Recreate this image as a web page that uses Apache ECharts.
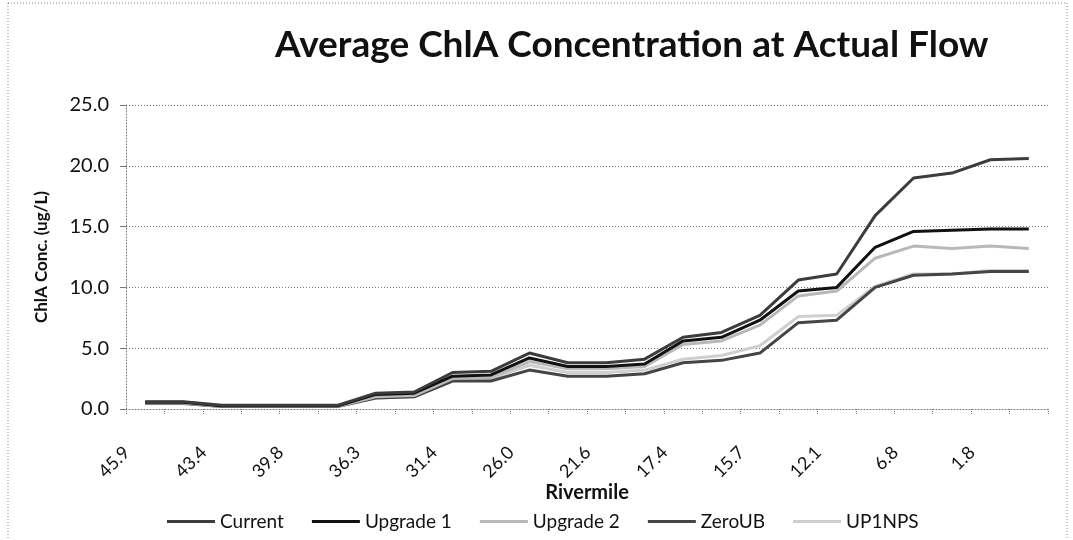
<!DOCTYPE html>
<html>
<head>
<meta charset="utf-8">
<script src="https://cdn.jsdelivr.net/npm/echarts@6/dist/echarts.min.js"></script>
<style>
  html, body { margin: 0; padding: 0; background: #fff; }
  #chart { width: 1073px; height: 540px; }
</style>
</head>
<body>
<div id="chart"></div>
<script>
// rivermile categories (only every other one is labelled in the original)
const rivermiles = [
  '45.9', '44.6', '43.4', '41.6', '39.8', '38.0', '36.3', '33.8',
  '31.4', '28.7', '26.0', '23.8', '21.6', '19.5', '17.4', '16.5',
  '15.7', '13.9', '12.1', '9.5', '6.8', '4.3', '1.8', '0.0'
];

// ChlA concentration (ug/L)
const current = [0.6, 0.6, 0.3, 0.3, 0.3, 0.3, 1.3, 1.4, 3.0, 3.1, 4.6, 3.8, 3.8, 4.1, 5.9, 6.3, 7.7, 10.6, 11.1, 15.9, 19.0, 19.4, 20.5, 20.6];
const upgrade1 = [0.55, 0.55, 0.25, 0.25, 0.25, 0.25, 1.2, 1.3, 2.7, 2.8, 4.2, 3.5, 3.5, 3.7, 5.6, 5.9, 7.3, 9.7, 10.0, 13.3, 14.6, 14.7, 14.8, 14.8];
const upgrade2 = [0.5, 0.5, 0.2, 0.2, 0.2, 0.2, 1.0, 1.1, 2.5, 2.6, 3.9, 3.3, 3.3, 3.5, 5.3, 5.6, 6.9, 9.3, 9.7, 12.4, 13.4, 13.2, 13.4, 13.2];
const zeroUB = [0.45, 0.45, 0.2, 0.2, 0.2, 0.2, 0.9, 1.0, 2.3, 2.3, 3.2, 2.7, 2.7, 2.9, 3.8, 4.0, 4.6, 7.1, 7.3, 10.0, 11.0, 11.1, 11.3, 11.3];
const up1nps = [0.5, 0.5, 0.2, 0.2, 0.2, 0.2, 0.9, 1.0, 2.4, 2.5, 3.6, 3.0, 3.0, 3.2, 4.1, 4.4, 5.2, 7.6, 7.7, 10.1, 11.1, 11.1, 11.4, 11.4];

const yTicks = { min: 0, max: 25, interval: 5 };

const font = 'Lato, "Open Sans", sans-serif';

function line(name, data, color, z) {
  return {
    name,
    type: 'line',
    data,
    symbol: 'none',
    z,
    lineStyle: { color, width: 3 },
    itemStyle: { color },
  };
}

const chart = echarts.init(document.getElementById('chart'), null, { renderer: 'canvas' });

chart.setOption({
  animation: false,
  textStyle: { fontFamily: font },
  title: {
    text: 'Average ChlA Concentration at Actual Flow',
    left: 270,
    top: 22,
    textStyle: { fontFamily: font, fontSize: 37, fontWeight: 'bold', color: '#111' },
  },
  graphic: [
    {
      type: 'rect',
      shape: { x: 8, y: 3, width: 1059, height: 545 },
      style: { fill: 'none', stroke: '#888', lineWidth: 1, lineDash: [1, 2] },
      silent: true,
    },
  ],
  legend: {
    top: 507,
    left: 162,
    icon: 'rect',
    itemWidth: 48,
    itemHeight: 3,
    itemGap: 28,
    textStyle: { fontFamily: font, fontSize: 19, color: '#111' },
    data: ['Current', 'Upgrade 1', 'Upgrade 2', 'ZeroUB', 'UP1NPS'],
  },
  grid: { left: 126, right: 25, top: 105, bottom: 131 },
  xAxis: {
    type: 'category',
    data: rivermiles,
    boundaryGap: true,
    name: 'Rivermile',
    nameLocation: 'middle',
    nameGap: 74,
    nameMoveOverlap: false,
    nameTextStyle: { fontFamily: font, fontSize: 20, fontWeight: 'bold', color: '#111' },
    axisLine: { lineStyle: { color: '#777', type: [1, 2], width: 1 } },
    axisTick: { show: true, interval: 0, length: 5, lineStyle: { color: '#777', type: [1, 1] } },
    axisLabel: {
      interval: 1,
      rotate: 45,
      margin: 22,
      padding: [0, 26, 0, 0],
      fontFamily: font,
      fontSize: 18,
      color: '#111',
    },
  },
  yAxis: {
    type: 'value',
    min: yTicks.min,
    max: yTicks.max,
    interval: yTicks.interval,
    name: 'ChlA Conc. (ug/L)',
    nameLocation: 'middle',
    nameGap: 76,
    nameTextStyle: { fontFamily: font, fontSize: 17, fontWeight: 'bold', color: '#111' },
    axisLine: { show: true, lineStyle: { color: '#777', type: [1, 2], width: 1 } },
    axisTick: { show: true, length: 6, lineStyle: { color: '#777' } },
    axisLabel: {
      margin: 17,
      fontFamily: font,
      fontSize: 20,
      color: '#111',
      formatter: (v) => v.toFixed(1),
    },
    splitLine: { lineStyle: { color: '#777', type: [1, 2], width: 1 } },
  },
  series: [
    line('Current', current, '#3c3c3c', 5),
    line('Upgrade 1', upgrade1, '#111111', 4),
    line('Upgrade 2', upgrade2, '#b8b8b8', 3),
    line('ZeroUB', zeroUB, '#454545', 2),
    line('UP1NPS', up1nps, '#cfcfcf', 1),
  ],
});
</script>
</body>
</html>
